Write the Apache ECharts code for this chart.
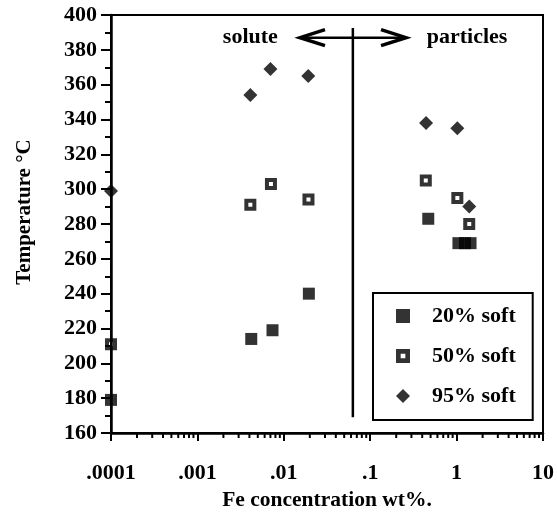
<!DOCTYPE html>
<html>
<head>
<meta charset="utf-8">
<script src="https://cdn.jsdelivr.net/npm/echarts@6/dist/echarts.min.js"></script>
<style>
html,body{margin:0;padding:0;background:#fff;}
#chart{width:557px;height:512px;}
</style>
</head>
<body>
<div id="chart"></div>
<script>
// Series data: [Fe concentration wt%, temperature °C]
const soft20 = [[0.0001,179],[0.0042,214],[0.0074,219],[0.0195,240],[0.47,283],[1.05,269],[1.25,269],[1.45,269]];
const soft50 = [[0.0001,211],[0.0041,291],[0.0071,303],[0.0193,294],[0.44,305],[1.02,295],[1.40,280]];
const soft95 = [[0.0001,299],[0.0041,354],[0.0070,369],[0.0192,365],[0.443,338],[1.02,335],[1.40,290]];
const seriesNames = ['20% soft','50% soft','95% soft'];
// x-axis tick labels
const xTickValues = [0.0001,0.001,0.01,0.1,1,10];
const xTickLabels = ['.0001','.001','.01','.1','1','10'];
// log minor tick multipliers and decades (axis decoration)
const minorMultipliers = [2,3,4,5,6,7,8,9];
const decades = [0.0001,0.001,0.01,0.1,1];
// annotation: solute/particles divider
const dividerX = 0.063, dividerTop = 392.5, dividerBottom = 169;
const arrowY = 387, arrowLeft = 0.0146, arrowRight = 0.274;
const soluteX = 0.0041, particlesX = 1.32, annoTextY = 387;

const minorTicks = [];
decades.forEach(d => minorMultipliers.forEach(m => minorTicks.push([m*d, 160])));

const FONT = 'Liberation Serif';
const W = 'bold';
const hollowSquare = 'path://M0 0H12V12H0Z M4 4V8H8V4Z';
const chart = echarts.init(document.getElementById('chart'));
chart.setOption({
  animation:false,
  backgroundColor:'#fff',
  grid:{left:111, top:15, right:14, bottom:79, containLabel:false, outerBoundsMode:'none',
        show:true, borderColor:'#000', borderWidth:2, backgroundColor:'transparent'},
  xAxis:{
    type:'log', logBase:10, min:0.0001, max:10, interval:1,
    name:'Fe concentration wt%.', nameLocation:'middle', nameGap:56,
    nameTextStyle:{fontFamily:FONT, fontSize:21.5, fontWeight:W, color:'#000'},
    axisLine:{show:true, onZero:false, lineStyle:{color:'#000', width:2.5}},
    axisTick:{show:true, inside:false, length:8, lineStyle:{color:'#000', width:2}},
    minorTick:{show:false},
    splitLine:{show:false},
    axisLabel:{margin:29, fontFamily:FONT, fontSize:22, fontWeight:W, color:'#000',
      formatter:function(v){ for(let i=0;i<xTickValues.length;i++){ if(Math.abs(Math.log10(v)-Math.log10(xTickValues[i]))<1e-6) return xTickLabels[i]; } return ''; }}
  },
  yAxis:{
    type:'value', min:160, max:400, interval:20,
    name:'Temperature °C', nameLocation:'middle', nameGap:76, nameRotate:90,
    nameTextStyle:{fontFamily:FONT, fontSize:21, fontWeight:W, color:'#000', padding:[0,0,0,24]},
    axisLine:{show:true, onZero:false, lineStyle:{color:'#000', width:2.5}},
    axisTick:{show:true, inside:false, length:10, lineStyle:{color:'#000', width:2}},
    minorTick:{show:true, splitNumber:2, length:6, lineStyle:{color:'#000', width:2}},
    splitLine:{show:false},
    axisLabel:{margin:14, fontFamily:FONT, fontSize:22, fontWeight:W, color:'#000'}
  },
  legend:{
    orient:'vertical', left:373, top:293,
    data:seriesNames,
    selectedMode:false,
    backgroundColor:'#fff',
    borderColor:'#000', borderWidth:2, borderRadius:0,
    padding:[12,17,13,23],
    itemWidth:14, itemHeight:14, itemGap:18,
    textStyle:{fontFamily:FONT, fontSize:22, fontWeight:W, color:'#000', padding:[0,0,0,17]}
  },
  series:[
    {name:seriesNames[0], type:'scatter', data:soft20, symbol:'rect', symbolSize:12, clip:false,
     itemStyle:{color:'#000'}, z:5},
    {name:seriesNames[1], type:'scatter', data:soft50, symbol:hollowSquare, symbolSize:12, clip:false,
     itemStyle:{color:'#000'}, z:5},
    {name:seriesNames[2], type:'scatter', data:soft95, symbol:'diamond', symbolSize:14, clip:false,
     itemStyle:{color:'#000'}, z:5},
    {type:'custom', name:'minorTicks', data:minorTicks, clip:false, silent:true, z:3,
     renderItem:function(params, api){
       const p = api.coord([api.value(0), api.value(1)]);
       return {type:'line', shape:{x1:p[0], y1:p[1], x2:p[0], y2:p[1]+5}, style:{stroke:'#000', lineWidth:2}};
     }},
    {type:'custom', name:'annotation', data:[[dividerX, arrowY]], clip:false, silent:true, z:4,
     renderItem:function(params, api){
       const top = api.coord([dividerX, dividerTop]);
       const bot = api.coord([dividerX, dividerBottom]);
       const L = api.coord([arrowLeft, arrowY]);
       const R = api.coord([arrowRight, arrowY]);
       const s = api.coord([soluteX, annoTextY]);
       const pt = api.coord([particlesX, annoTextY]);
       const st = {stroke:'#000', lineWidth:3.5, fill:null, lineJoin:'miter'};
       return {type:'group', children:[
         {type:'line', shape:{x1:top[0], y1:top[1], x2:bot[0], y2:bot[1]}, style:{stroke:'#000', lineWidth:2.5}},
         {type:'line', shape:{x1:L[0]+2, y1:L[1], x2:R[0]-2, y2:R[1]}, style:{stroke:'#000', lineWidth:2.5}},
         {type:'polyline', shape:{points:[[L[0]+27, L[1]-8],[L[0]+2, L[1]],[L[0]+27, L[1]+8]]}, style:st},
         {type:'polyline', shape:{points:[[R[0]-27, R[1]-8],[R[0]-2, R[1]],[R[0]-27, R[1]+8]]}, style:st},
         {type:'text', x:s[0], y:s[1], style:{text:'solute', fontFamily:FONT, fontSize:22, fontWeight:W, fill:'#000', align:'center', verticalAlign:'middle'}},
         {type:'text', x:pt[0], y:pt[1], style:{text:'particles', fontFamily:FONT, fontSize:22, fontWeight:W, fill:'#000', align:'center', verticalAlign:'middle'}}
       ]};
     }}
  ]
});
</script>
</body>
</html>
